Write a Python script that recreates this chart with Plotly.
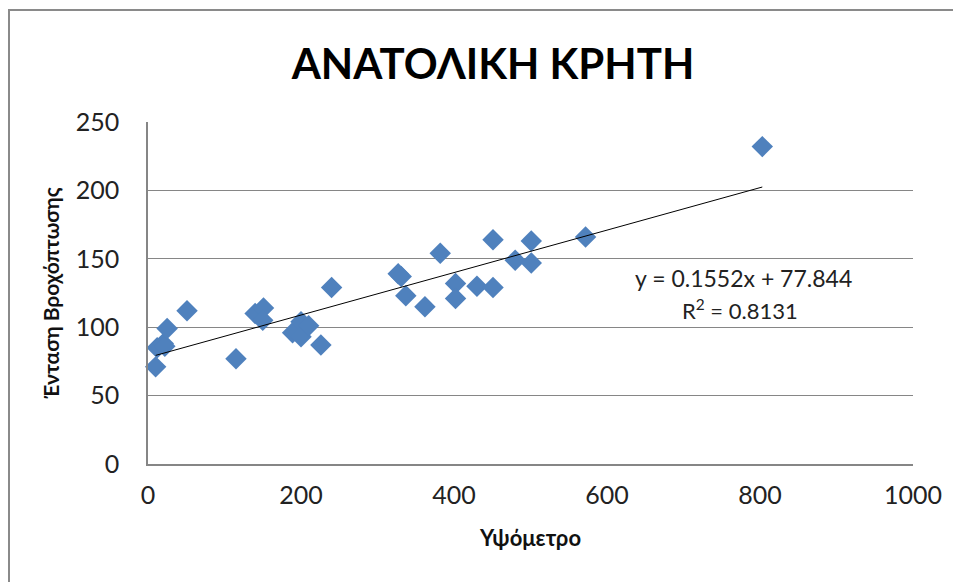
import plotly.graph_objects as go
import numpy as np

# Data
altitude = [10, 12, 20, 22, 25, 51, 115, 140, 151, 150, 189, 200, 200, 210, 226, 240,
            327, 331, 337, 362, 382, 402, 402, 430, 451, 451, 480, 501, 501, 572, 803]
intensity = [71, 85, 88, 86, 99, 112, 77, 110, 114, 105, 96, 104, 93, 101, 87, 129,
             139, 137, 123, 115, 154, 132, 121, 130, 129, 164, 149, 147, 163, 166, 232]

slope = 0.1552
intercept = 77.844
r2 = 0.8131

title_text = "ΑΝΑΤΟΛΙΚΗ ΚΡΗΤΗ"
x_title = "Υψόμετρο"
y_title = "Ένταση Βροχόπτωσης"
x_ticks = [0, 200, 400, 600, 800, 1000]
y_ticks = [0, 50, 100, 150, 200, 250]

FONT = "Lato"

trend_x = np.array([min(altitude), max(altitude)])
trend_y = slope * trend_x + intercept

# page has an 8px body margin; figure sized to fit the window
W, H = 953, 574
L, R, T, B = 140, 48, 114, 118
PW = W - L - R
PH = H - T - B

fig = go.Figure()
fig.add_trace(go.Scatter(
    x=altitude, y=intensity, mode="markers",
    marker=dict(symbol="diamond", size=16.5, color="#4F81BD",
                line=dict(width=0)),
    showlegend=False, cliponaxis=False,
))
fig.add_trace(go.Scatter(
    x=trend_x, y=trend_y, mode="lines",
    line=dict(color="black", width=1),
    showlegend=False,
))

fig.update_layout(
    width=W, height=H,
    margin=dict(l=L, r=R, t=T, b=B),
    paper_bgcolor="white", plot_bgcolor="white",
    font=dict(family=FONT, color="#222"),
    title=dict(text="<b>" + title_text + "</b>", x=(485 - L) / PW, xanchor="center",
               y=1 - 56 / H, yanchor="middle", xref="paper",
               font=dict(family=FONT, size=42, color="black")),
    xaxis=dict(range=[0, 1000], tickvals=x_ticks, showgrid=False,
               showline=True, linecolor="#868686", linewidth=1.5,
               ticks="", ticklabelstandoff=8, tickfont=dict(size=25, color="#222"),
               title=dict(text="<b>" + x_title + "</b>", font=dict(size=22, color="#111"),
                          standoff=23),
               zeroline=False, fixedrange=True),
    yaxis=dict(range=[0, 250], tickvals=y_ticks, showgrid=True,
               gridcolor="#868686", gridwidth=1.2,
               showline=True, linecolor="#868686", linewidth=1.5,
               ticks="", ticklabelstandoff=22, tickfont=dict(size=25, color="#222"),
               title=dict(text="<b>" + y_title + "</b>", font=dict(size=21, color="#111"),
                          standoff=10),
               zeroline=False, fixedrange=True),
    shapes=[dict(type="rect", xref="paper", yref="paper",
                 x0=(1 - L) / PW, x1=1.2, y0=-0.5, y1=(PH + T - 2) / PH,
                 line=dict(color="#8a8a8a", width=2), layer="below")],
    annotations=[
        dict(text=f"y = {slope}x + {intercept}", x=778, y=136, xref="x", yref="y",
             showarrow=False, font=dict(size=23, color="#222")),
        dict(text=f"R<sup>2</sup> = {r2}", x=774, y=112.6, xref="x", yref="y",
             showarrow=False, font=dict(size=22, color="#222")),
    ],
)

fig.write_html("out.html")
